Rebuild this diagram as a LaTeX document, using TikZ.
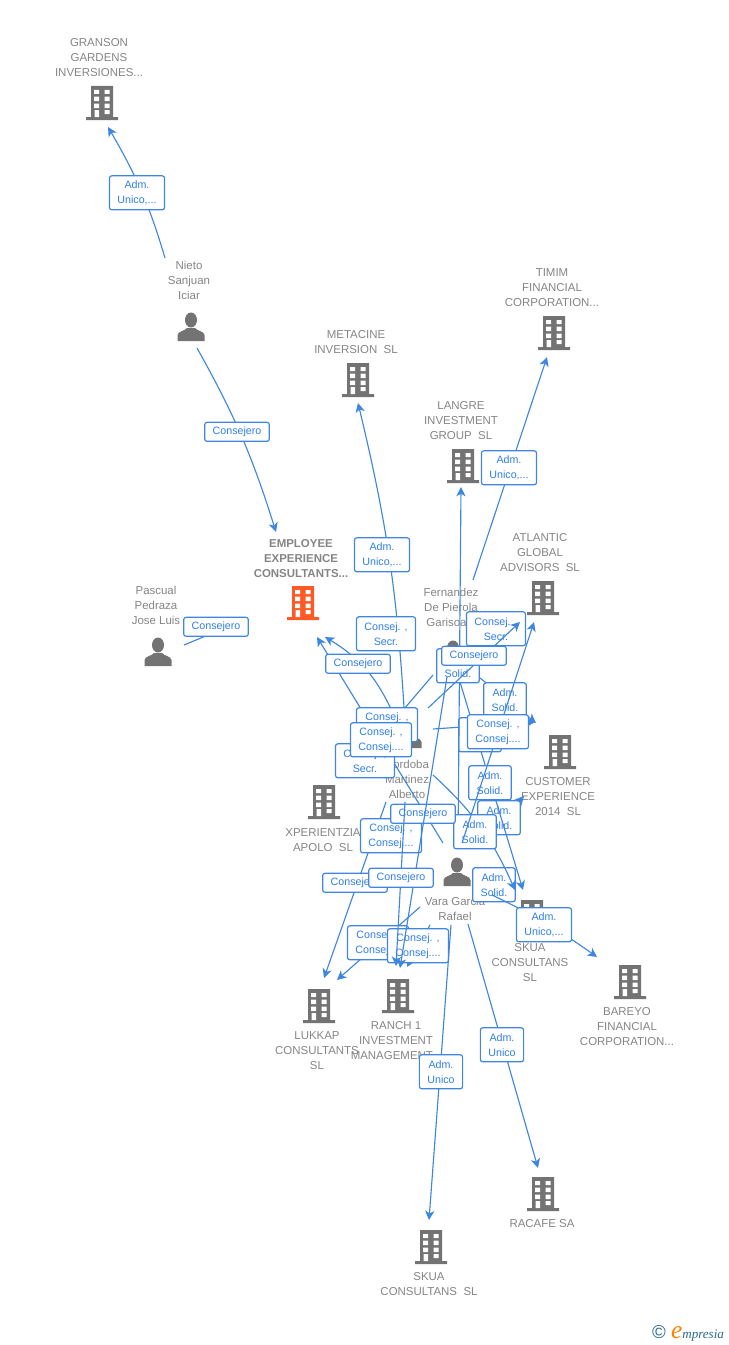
\documentclass[tikz,border=0pt]{standalone}
\usepackage{fontspec}
\setmainfont{Liberation Sans}
\usetikzlibrary{arrows.meta,bending}
\definecolor{linkblue}{HTML}{3F86E0}
\definecolor{tagblue}{HTML}{2F7FE6}
\definecolor{icongrey}{HTML}{737373}
\definecolor{labelgrey}{HTML}{858585}
\definecolor{mainorange}{HTML}{FF5A26}
\definecolor{logoteal}{HTML}{2A6A8A}
\tikzset{
  building/.style={inner sep=0pt,minimum width=24pt,minimum height=26pt,path picture={
    \begin{scope}[shift={(path picture bounding box.center)}]
      \fill[#1] (-11,-17) rectangle (11,14) (-16,14) rectangle (16,17);
      \fill[white] (-8,-13) rectangle (-3,-9) (2.5,-13) rectangle (7.5,-9)
        (-8,-6.5) rectangle (-3,-2) (2.5,-6.5) rectangle (7.5,-2)
        (-8,0.5) rectangle (-3,5) (2.5,0.5) rectangle (7.5,5)
        (-7.5,7) rectangle (-3,14) (2.5,7) rectangle (7.5,11);
    \end{scope}}},
  person/.style={inner sep=0pt,minimum width=22pt,minimum height=23pt,path picture={
    \begin{scope}[shift={(path picture bounding box.center)}]
      \fill[icongrey] (0,-7) ellipse (6 and 7.5);
      \fill[icongrey] (-13.5,14) -- (-13.5,8) .. controls (-13,4) and (-6,4) .. (-4,1)
        -- (4,1) .. controls (6,4) and (13,4) .. (13.5,8) -- (13.5,14) -- cycle;
    \end{scope}}},
  lbl/.style={align=center,text=labelgrey,inner sep=0pt,yshift=-0.75pt,font=\fontsize{8.6}{11.25}\selectfont},
  conn/.style={draw=linkblue,line width=0.85pt,-{Stealth[length=7pt,width=7pt,inset=2pt,flex]}},
  plainconn/.style={draw=linkblue,line width=0.85pt},
  tag/.style={draw=linkblue,line width=0.9pt,fill=white,rounded corners=1.8pt,align=center,text=tagblue,
    inner xsep=6pt,inner ysep=2pt,yshift=-0.6pt,minimum height=14.25pt,font=\fontsize{8}{11.25}\selectfont},
  tagtwo/.style={tag,minimum height=25.5pt}
}
\begin{document}
\begin{tikzpicture}[x=0.75pt,y=-0.75pt]
  \useasboundingbox (0,0) rectangle (728,1345);
  % companies and people
  \node[building=icongrey] (granson) at (102,103) {};
  \node[person] (nieto) at (191,327) {};
  \node[building=icongrey] (metacine) at (358,380) {};
  \node[building=icongrey] (timim) at (554,333) {};
  \node[building=icongrey] (langre) at (463,466) {};
  \node[building=mainorange] (employee) at (303,603) {};
  \node[person] (pascual) at (158,652) {};
  \node[person] (fernandez) at (453,655) {};
  \node[building=icongrey] (atlantic) at (543,598) {};
  \node[building=icongrey] (customer) at (560,752) {};
  \node[person] (cordoba) at (408,734) {};
  \node[building=icongrey] (xperientzia) at (324,802) {};
  \node[person] (vara) at (457,872) {};
  \node[building=icongrey] (skuaa) at (532,917) {};
  \node[building=icongrey] (bareyo) at (630,982) {};
  \node[building=icongrey] (ranch) at (398,996) {};
  \node[building=icongrey] (lukkap) at (319,1006) {};
  \node[building=icongrey] (skuab) at (431,1247) {};
  \node[building=icongrey] (racafe) at (543,1194) {};
  % their names
  \node[lbl] (gransonlbl) at (99,57) {GRANSON\\GARDENS\\INVERSIONES...};
  \node[lbl] (nietolbl) at (189,279) {Nieto\\Sanjuan\\Iciar};
  \node[lbl] (metacinelbl) at (356,341.5) {METACINE\\INVERSION~~SL};
  \node[lbl] (timimlbl) at (552,287) {TIMIM\\FINANCIAL\\CORPORATION...};
  \node[lbl] (langrelbl) at (461,420) {LANGRE\\INVESTMENT\\GROUP~~SL};
  \node[lbl,font=\fontsize{8.6}{11.25}\selectfont\bfseries] (employeelbl) at (301,558) {EMPLOYEE\\EXPERIENCE\\CONSULTANTS...};
  \node[lbl] (pascuallbl) at (156,604) {Pascual\\Pedraza\\Jose Luis};
  \node[lbl] (fernandezlbl) at (451,606) {Fernandez\\De Pierola\\Garisoain};
  \node[lbl] (atlanticlbl) at (540,552) {ATLANTIC\\GLOBAL\\ADVISORS~~SL};
  \node[lbl] (customerlbl) at (558,796) {CUSTOMER\\EXPERIENCE\\2014~~SL};
  \node[lbl] (cordobalbl) at (407,778) {Cordoba\\Martinez\\Alberto};
  \node[lbl] (xperientzialbl) at (323,839.5) {XPERIENTZIA\\APOLO~~SL};
  \node[lbl] (varalbl) at (455,907.5) {Vara Garcia\\Rafael};
  \node[lbl] (skuaalbl) at (530,962) {SKUA\\CONSULTANS\\SL};
  \node[lbl] (bareyolbl) at (627,1026) {BAREYO\\FINANCIAL\\CORPORATION...};
  \node[lbl] (ranchlbl) at (396,1040) {RANCH 1\\INVESTMENT\\MANAGEMENT...};
  \node[lbl] (lukkaplbl) at (317,1050) {LUKKAP\\CONSULTANTS\\SL};
  \node[lbl] (skuablbl) at (429,1283.5) {SKUA\\CONSULTANS~~SL};
  \node[lbl] (racafelbl) at (542,1223) {RACAFE SA};
  \node[inner sep=0pt,text=logoteal] (logo) at (688,1333)
    {\fontsize{14}{14}\selectfont\textcopyright\hspace{4pt}\textcolor{orange}{\fontspec{Liberation Serif}\itshape\fontsize{19}{19}\selectfont e}\fontspec{Liberation Serif}\itshape\fontsize{9.8}{12}\selectfont mpresia};
  % links, each one under the tags that hide it
  \draw[conn] ([shift={(-26,-69)}]nieto.center) to[bend right=7] ([shift={(6,24)}]granson.center);
  \node[tagtwo] (tagnietoa) at (137,192) {Adm.\\Unico,...};
  \draw[conn] ([shift={(6,21)}]nieto.center) to[bend left=6] ([shift={(-27,-71)}]employee.center);
  \node[tag] (tagnietob) at (237,431) {Consejero};
  \draw[plainconn] ([shift={(26,-7)}]pascual.center) -- ([shift={(-78,25)}]employee.center);
  \node[tag] (tagpascual) at (216,626) {Consejero};
  \draw[conn] ([shift={(-4,-27)}]cordoba.center) to[bend right=5] ([shift={(0,23)}]metacine.center);
  \node[tagtwo] (tagmetacine) at (382,554) {Adm.\\Unico,...};
  \node[tagtwo] (tagsecra) at (386,633) {Consej. ,\\Secr.};
  \draw[conn] ([shift={(20,-75)}]fernandez.center) -- ([shift={(-7,24)}]timim.center);
  \node[tagtwo] (tagtimim) at (509,467) {Adm.\\Unico,...};
  \draw[conn] ([shift={(-14,-29)}]vara.center) -- ([shift={(14,34)}]employee.center);
  \draw[conn] ([shift={(-18,-27)}]cordoba.center) to[bend right=17] ([shift={(22,34)}]employee.center);
  \node[tag] (tagemployee) at (358,663) {Consejero};
  \draw[conn] ([shift={(-20,20)}]fernandez.center) -- ([shift={(23,-26)}]xperientzia.center);
  \node[tagtwo] (tagsecrb) at (365,760) {Consej. ,\\Secr.};
  \node[tagtwo] (tagconsa) at (387,724) {Consej. ,\\Consej....};
  \node[tagtwo] (tagconsb) at (381,739) {Consej. ,\\Consej....};
  \draw[conn] ([shift={(23,-27)}]vara.center) -- ([shift={(-36,44)}]customer.center);
  \node[tagtwo] (tagsolida) at (499,817) {Adm.\\Solid.};
  \draw[conn] ([shift={(7,27)}]fernandez.center) -- ([shift={(-9,-27)}]skuaa.center);
  \draw[conn] ([shift={(27,23)}]fernandez.center) -- ([shift={(-24,-29)}]customer.center);
  \draw[conn] ([shift={(25,-5)}]cordoba.center) -- ([shift={(-25,-30)}]customer.center);
  \node[tagtwo] (tagsolidb) at (480,734) {Adm.\\Solid.};
  \draw[conn] ([shift={(1,-25)}]vara.center) -- ([shift={(-2,21)}]langre.center);
  \node[tagtwo] (tagsolidc) at (458,665) {Adm.\\Solid.};
  \node[tagtwo] (tagsolidd) at (505,699) {Adm.\\Solid.};
  \node[tagtwo] (tagsolide) at (490,782) {Adm.\\Solid.};
  \node[tagtwo] (tagsecrc) at (496,628) {Consej. ,\\Secr.};
  \draw[conn] ([shift={(20,-26)}]cordoba.center) -- ([shift={(-23,24)}]atlantic.center);
  \node[tagtwo] (tagsolidf) at (494,884) {Adm.\\Solid.};
  \draw[conn] ([shift={(35,23)}]vara.center) to[bend left=5] ([shift={(-33,-25)}]bareyo.center);
  \draw[conn] ([shift={(25,41)}]cordoba.center) to[bend left=12] ([shift={(-17,-27)}]skuaa.center);
  \node[tagtwo] (tagsolidg) at (475,831) {Adm.\\Solid.};
  \draw[conn] ([shift={(5,-29)}]vara.center) -- ([shift={(-9,24)}]atlantic.center);
  \node[tagtwo] (tagconsc) at (498,731) {Consej. ,\\Consej....};
  \node[tag] (tagfernandez) at (474,655) {Consejero};
  \node[tagtwo] (tagbareyo) at (544,924) {Adm.\\Unico,...};
  \draw[conn] ([shift={(-22,68)}]cordoba.center) -- ([shift={(5,-28)}]lukkap.center);
  \draw[conn] ([shift={(-37,35)}]vara.center) -- ([shift={(18,-26)}]lukkap.center);
  \draw[conn] ([shift={(-27,53)}]vara.center) -- ([shift={(9,-29)}]ranch.center);
  \node[tagtwo] (tagconsd) at (391,835) {Consej. ,\\Consej....};
  \node[tag] (taglukkap) at (355,882) {Consejero};
  \node[tagtwo] (tagconse) at (378,942) {Consej. ,\\Consej....};
  \node[tagtwo] (tagconsf) at (418,945) {Consej. ,\\Consej....};
  \node[tag] (tagcordoba) at (423,813) {Consejero};
  \draw[conn] ([shift={(-6,22)}]fernandez.center) -- ([shift={(2,-28)}]ranch.center);
  \draw[conn] ([shift={(-3,68)}]cordoba.center) -- ([shift={(-2,-30)}]ranch.center);
  \node[tag] (tagranch) at (401,877) {Consejero};
  \draw[conn] ([shift={(-6,53)}]vara.center) -- ([shift={(-2,-27)}]skuab.center);
  \node[tagtwo] (tagskua) at (441,1071) {Adm.\\Unico};
  \draw[conn] ([shift={(11,52)}]vara.center) -- ([shift={(-5,-26)}]racafe.center);
  \node[tagtwo] (tagracafe) at (502,1044) {Adm.\\Unico};
\end{tikzpicture}
\end{document}
